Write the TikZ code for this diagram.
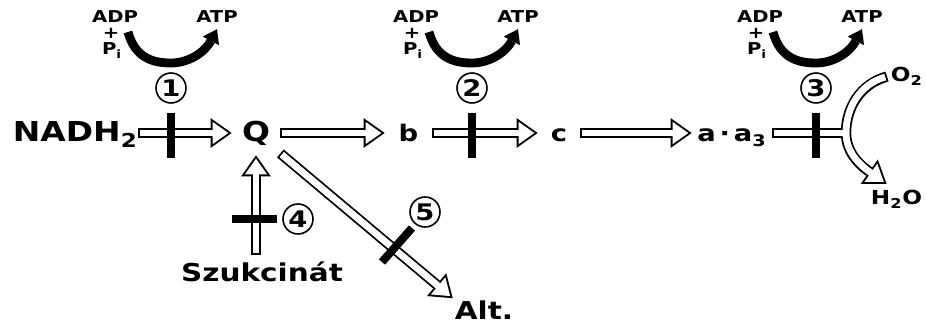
\documentclass[tikz,border=0pt]{standalone}
\usepackage{amsmath}
\usepackage{fontspec}
\setmainfont{DejaVu Sans}[FakeStretch=1.2]
\usepackage{tikz}
\usetikzlibrary{arrows.meta,calc}

\begin{document}
\begin{tikzpicture}[x=0.02cm, y=-0.02cm,
  chem/.style={inner sep=0pt, text height=10.2pt, text depth=0pt},
  capfont/.style={font=\bfseries\fontsize{15.6}{16}\selectfont},
  lowfont/.style={font=\bfseries\fontsize{13}{14}\selectfont},
  side/.style={font=\bfseries\fontsize{14}{15}\selectfont},
  gas/.style={inner sep=2pt, font=\bfseries\fontsize{11}{12}\selectfont},
  atpfont/.style={font=\bfseries\fontsize{9.3}{10}\selectfont},
  num/.style={circle, draw, line width=0.9pt, minimum size=0.6cm, inner sep=0pt,
    font=\bfseries\fontsize{13}{13}\selectfont},
  inhib/.style={line width=4.6pt},
  phos/.style={line width=5pt, -{Triangle[length=7.5pt,width=10.5pt,line width=0pt]}},
  hollow/.style={draw=white, line width=3.7pt, shorten <=1.1pt, shorten >=1.9pt,
    -{Triangle[length=9pt,width=12.75pt,line width=0pt]},
    preaction={draw=black, line width=5.9pt, shorten <=0pt, shorten >=0pt,
      -{Triangle[length=12pt,width=17pt,line width=0pt]}},
    postaction={draw=white, line width=3.7pt, -, shorten <=1.1pt, shorten >=7.5pt}},
  shaftout/.style={line width=5.9pt},
  shaftin/.style={white, line width=3.7pt, shorten <=1.1pt}
]
  \useasboundingbox (0,0) rectangle (926,324);

  % carriers of the chain
  \node[chem, capfont, anchor=east] (nadh) at (138,133) {NADH$_\text{2}$};
  \node[chem, capfont, minimum width=0.96cm, minimum height=0.88cm] (q) at (256,133) {Q};
  \node[chem, lowfont, minimum width=0.94cm] (cytb) at (408.5,133) {b};
  \node[chem, lowfont, minimum width=0.84cm] (cytc) at (559,133) {c};
  \node[chem, lowfont, minimum width=1.6cm] (cytaa) at (732,133) {a\,·\,a$_\text{3}$};
  \coordinate (split) at (846,133);
  \node[side, anchor=base] (szuk) at (262,281) {Szukcinát};
  \node[side, anchor=base, inner sep=1pt] (alt) at (484,319) {Alt.};
  \node[gas, anchor=base west] (o2) at (887,82) {O$_\text{2}$};
  \node[gas, anchor=base west] (h2o) at (867,205) {H$_\text{2}$O};

  % electron flow
  \draw[hollow] (nadh) -- (q);
  \draw[hollow] (q) -- (cytb);
  \draw[hollow] (cytb) -- (cytc);
  \draw[hollow] (cytc) -- (cytaa);
  \draw[hollow] (szuk.north -| q) -- (q);
  \draw[hollow] (q) -- (alt.north west);
  \draw[shaftout] (cytaa) -- (split);
  \draw[hollow] (o2.west) .. controls (860,84) and (846,108) .. (split)
    .. controls (846,155) and (864,168) .. ($(h2o.north)+(-10,-3)$);
  \draw[shaftin] (cytaa) -- (split);

  % coupling sites
  \foreach \x/\n in {171/1, 472/2, 816/3}{
    \begin{scope}[shift={(\x,0)}]
      \node[atpfont, anchor=base] (adp\n) at (-56,23) {ADP};
      \node[atpfont] (plus\n) at (-60,33) {+};
      \node[atpfont, anchor=base] (pi\n) at (-59,55) {P$_\text{i}$};
      \node[atpfont, anchor=base] (atp\n) at (46,23) {ATP};
      \node[num] (site\n) at (0,88) {\n};
      \draw[phos] (-43,32) .. controls (-36,58) and (-18,63) .. (0,63)
        .. controls (18,63) and (34,52) .. (atp\n.south);
      \draw[inhib] (site\n.south) ++(0,9) -- ++(0,45);
    \end{scope}
  }
  \node[num] (site4) at (298,219) {4};
  \node[num] (site5) at (425,212) {5};
  \draw[inhib] (site4.west) ++(-5,0) -- ++(-45,0);
  \draw[inhib] (site5) ++(-13,16) -- ++(-30,34);
\end{tikzpicture}
\end{document}
